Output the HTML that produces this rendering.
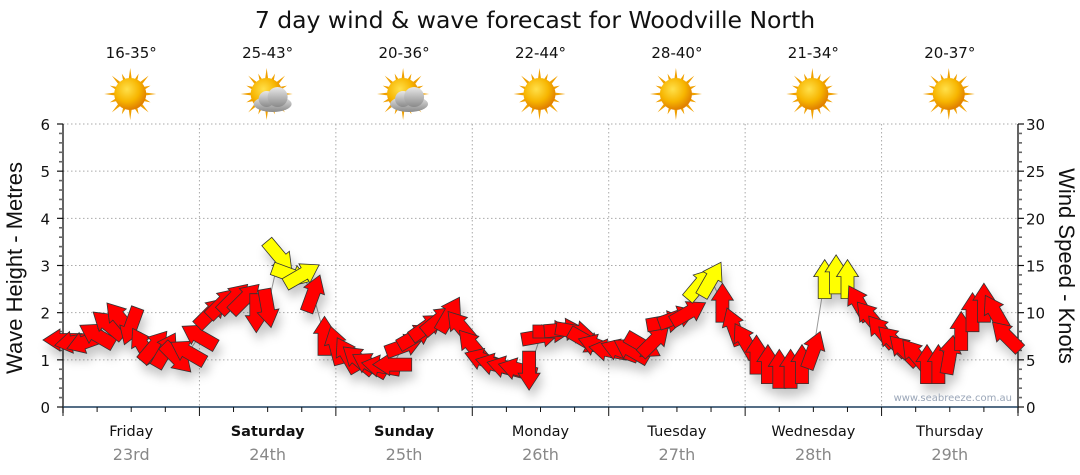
<!DOCTYPE html>
<html><head><meta charset="utf-8">
<style>
body{margin:0;background:#fff;}
svg{display:block;font-family:"DejaVu Sans","Liberation Sans",sans-serif;}
</style></head>
<body>
<svg id="chart" width="1080" height="475" viewBox="0 0 1080 475" xmlns="http://www.w3.org/2000/svg">
<defs>
<filter id="sh" x="-50%" y="-50%" width="200%" height="200%"><feDropShadow dx="3" dy="8" stdDeviation="5" flood-color="#000" flood-opacity="0.22"/></filter>
<radialGradient id="sunG" cx="40%" cy="35%" r="65%"><stop offset="0" stop-color="#ffe04a"/><stop offset="0.6" stop-color="#f7b500"/><stop offset="1" stop-color="#e07f00"/></radialGradient>
<linearGradient id="cloudG" x1="0" y1="0" x2="0" y2="1"><stop offset="0" stop-color="#e8e8e8"/><stop offset="1" stop-color="#8a8a8a"/></linearGradient>
</defs>
<text x="535" y="28" font-size="23.5" text-anchor="middle" fill="#111">7 day wind &amp; wave forecast for Woodville North</text>
<g id="grid"></g>
<g id="axes"></g>
<g id="icons"></g>
<g id="arrows" filter="url(#sh)"></g>
<text transform="translate(22,268) rotate(-90)" font-size="22" font-family="Liberation Sans, sans-serif" text-anchor="middle" fill="#111">Wave Height - Metres</text>
<text transform="translate(1059,266) rotate(90)" font-size="22" font-family="Liberation Sans, sans-serif" text-anchor="middle" fill="#111">Wind Speed - Knots</text>
<text x="1012" y="401" font-size="10" text-anchor="end" fill="#9aa6b8">www.seabreeze.com.au</text>
</svg>
<script>
const days = ["Friday","Saturday","Sunday","Monday","Tuesday","Wednesday","Thursday"];
const dates = ["23rd","24th","25th","26th","27th","28th","29th"];
const boldDays = [false,true,true,false,false,false,false];
const temps = ["16-35°","25-43°","20-36°","22-44°","28-40°","21-34°","20-37°"];
const cloudy = [false,true,true,false,false,false,false];
const waveTicks = [0,1,2,3,4,5,6];
const windTicks = [0,5,10,15,20,25,30];
// wind speed (knots), every 2 hours from Friday 00:00
const windSpeed = [7.1,6.9,6.9,7.6,8.7,9.4,8.6,6.5,6.4,6.0,5.2,5.8,
 7.5,10,11,11.5,11.5,10,10.5,16,14,14,12,7.5,
 6.5,5.5,5,4.5,4.3,4.5,6.5,7.5,8.5,9.2,9.8,8.5,
 6.5,5,4.5,4.2,4,3.9,7.5,8,8.2,8,7,6.5,
 6,6,6,6.5,7,9,9.5,10,13,13.5,11,8.5,
 7,5.5,4.5,4,4,4.5,6,13.5,14,13.5,11,9.5,
 8,7,6,5.5,4.5,4.5,5.5,8,10,11,10,7.5];
// direction arrow points to (degrees clockwise from up)
const windDir = [270,260,250,300,310,320,200,330,40,30,135,300,
 300,45,45,45,45,180,170,140,110,60,20,0,
 345,330,310,300,280,270,70,60,55,50,30,320,
 320,290,285,285,285,180,80,90,85,100,120,290,
 280,290,300,120,45,80,70,60,40,30,0,340,
 330,0,0,0,0,0,20,0,0,0,330,320,
 320,315,315,320,0,0,10,0,0,0,330,315];

const X0=63, X1=1018, Y0=407, Y6=124;
const dayW=(X1-X0)/7;
const NS="http://www.w3.org/2000/svg";
function xT(h){return X0+h*dayW/24;}
function yM(m){return Y0-(Y0-Y6)*m/6;}
function yK(k){return Y0-(Y0-Y6)*k/30;}
function mk(tag,attrs,parent){const e=document.createElementNS(NS,tag);for(const k in attrs)e.setAttribute(k,attrs[k]);parent.appendChild(e);return e;}
const grid=document.getElementById('grid'), axes=document.getElementById('axes'), icons=document.getElementById('icons'), arrows=document.getElementById('arrows');

waveTicks.forEach(v=>{
  if(v>0){const g=mk('line',{x1:X0,x2:X1,y1:yM(v),y2:yM(v),stroke:'#aaa','stroke-dasharray':'1.5,2.5'},grid);
  
  }
  const t=mk('text',{x:X0-13,y:yM(v)+6,'font-size':15,'text-anchor':'end',fill:'#111'},axes);t.textContent=v;
  
  
});
windTicks.forEach(v=>{
  const t=mk('text',{x:X1+8,y:yK(v)+6,'font-size':15,fill:'#111'},axes);t.textContent=v;
  
  
});
for(let i=1;i<7;i++){
  const g=mk('line',{x1:X0+i*dayW,x2:X0+i*dayW,y1:Y6,y2:Y0,stroke:'#aaa','stroke-dasharray':'1.5,2.5'},grid);
  
  
}
mk('line',{x1:X0,x2:X0,y1:Y6,y2:Y0+6,stroke:'#111','stroke-width':1.3},axes);
mk('line',{x1:X1,x2:X1,y1:Y6,y2:Y0+6,stroke:'#111','stroke-width':1.3},axes);
mk('line',{x1:X0,x2:X1,y1:Y0,y2:Y0,stroke:'#1d3f5e','stroke-width':1.5},axes);
for(let i=0;i<=30;i++){
  const yl=Y0-(Y0-Y6)*i/30, major=i%5==0;
  mk('line',{x1:X0-(major?6:4),x2:X0,y1:yl,y2:yl,stroke:major?'#111':'#666','stroke-width':major?1.2:1.6},axes);
  mk('line',{x1:X1,x2:X1+(major?6:4),y1:yl,y2:yl,stroke:major?'#111':'#666','stroke-width':major?1.2:1.6},axes);
}
for(let i=0;i<=28;i++){
  const xl=X0+i*dayW/4, major=i%4==0;
  mk('line',{x1:xl,x2:xl,y1:Y0,y2:Y0+(major?9:5),stroke:'#111','stroke-width':1},axes);
}
days.forEach((d,i)=>{
  const cx=X0+(i+0.5)*dayW;
  const t=mk('text',{x:cx,y:436,'font-size':14.5,'text-anchor':'middle',fill:'#111','font-weight':boldDays[i]?'bold':'normal'},axes);t.textContent=d;
  
  
  const t2=mk('text',{x:cx,y:460,'font-size':16,'text-anchor':'middle',fill:'#888'},axes);t2.textContent=dates[i];
  
  
  const t3=mk('text',{x:cx,y:58,'font-size':15,'text-anchor':'middle',fill:'#111'},icons);t3.textContent=temps[i];
  
  
  const g=mk('g',{transform:`translate(${cx-1},94)`},icons);
  
  
  for(let r=0;r<16;r++){
    const a=r*Math.PI/8, l=r%2?22:26;
    mk('polygon',{points:`${Math.cos(a-0.12)*14},${Math.sin(a-0.12)*14} ${Math.cos(a)*l},${Math.sin(a)*l} ${Math.cos(a+0.12)*14},${Math.sin(a+0.12)*14}`,fill:'#f0a000'},g);
  }
  mk('circle',{cx:0,cy:0,r:16,fill:'url(#sunG)'},g);
  if(cloudy[i]){
    const c=mk('g',{transform:'translate(6,4)'},g);
    mk('ellipse',{cx:0,cy:6,rx:19,ry:8,fill:'url(#cloudG)'},c);
    mk('circle',{cx:-6,cy:1,r:8,fill:'url(#cloudG)'},c);
    mk('circle',{cx:5,cy:-1,r:10,fill:'url(#cloudG)'},c);
  }
});
let d='';
windSpeed.forEach((k,i)=>{d+=(i?'L':'M')+xT(i*2).toFixed(1)+','+yK(k).toFixed(1);});
const wl=mk('path',{d:d,fill:'none',stroke:'#999','stroke-width':1},grid);


windSpeed.forEach((k,i)=>{
  const p=mk('polygon',{points:'0,-20 11,-3 6.5,-3 6.5,19 -6.5,19 -6.5,-3 -11,-3',
    transform:`translate(${xT(i*2).toFixed(1)},${yK(k).toFixed(1)}) rotate(${windDir[i]})`,
    fill:k>=12.5?'#ffff00':'#ff0000',stroke:'#333','stroke-width':0.8},arrows);
  
  
});
</script>
</body></html>
